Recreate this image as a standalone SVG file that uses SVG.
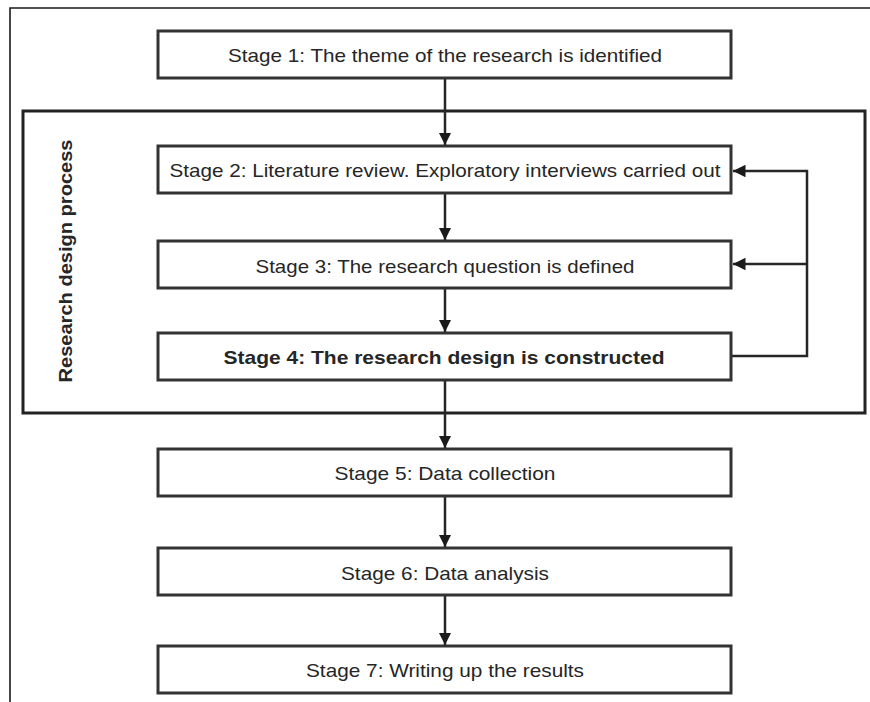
<svg xmlns="http://www.w3.org/2000/svg" width="870" height="702" viewBox="0 0 870 702">
  <style>
    .frame { fill: none; stroke: #1a1a1a; stroke-width: 1.6; }
    .box { fill: #ffffff; stroke: #333333; stroke-width: 3; }
    .group { fill: none; stroke: #222222; stroke-width: 3; }
    .label { font-family: "Liberation Sans", "DejaVu Sans", sans-serif; font-size: 19px; fill: #262626; text-anchor: middle; dominant-baseline: central; }
    .bold { font-weight: bold; }
    .wire { fill: none; stroke: #262626; stroke-width: 2.5; }
  </style>
  <defs>
    <marker id="arrow" viewBox="0 0 10 10" refX="10" refY="5" markerWidth="5" markerHeight="5" orient="auto" markerUnits="strokeWidth">
      <path d="M0,0 L10,5 L0,10 Z" fill="#1a1a1a"/>
    </marker>
  </defs>

  <rect width="870" height="702" fill="#ffffff"/>

  <!-- page frame -->
  <path class="frame" d="M10,702 L10,8 L870,8"/>

  <!-- research design process grouping -->
  <g id="research-design-process">
    <rect class="group" x="23" y="111" width="842" height="302"/>
    <text class="label bold" transform="translate(65,261) rotate(-90)" textLength="243" lengthAdjust="spacingAndGlyphs">Research design process</text>
  </g>

  <!-- connectors -->
  <g id="connectors">
    <line class="wire" x1="445" y1="78" x2="445" y2="145" marker-end="url(#arrow)"/>
    <line class="wire" x1="445" y1="193" x2="445" y2="240" marker-end="url(#arrow)"/>
    <line class="wire" x1="445" y1="288" x2="445" y2="332" marker-end="url(#arrow)"/>
    <line class="wire" x1="445" y1="380" x2="445" y2="448" marker-end="url(#arrow)"/>
    <line class="wire" x1="445" y1="496" x2="445" y2="547" marker-end="url(#arrow)"/>
    <line class="wire" x1="445" y1="595" x2="445" y2="645" marker-end="url(#arrow)"/>
    <polyline class="wire" points="731,356 807,356 807,171 733,171" marker-end="url(#arrow)"/>
    <line class="wire" x1="807" y1="264" x2="733" y2="264" marker-end="url(#arrow)"/>
  </g>

  <g id="stage1">
    <rect class="box" x="158" y="31" width="573" height="47"/>
    <text class="label" x="445" y="55" textLength="434" lengthAdjust="spacingAndGlyphs">Stage 1: The theme of the research is identified</text>
  </g>
  <g id="stage2">
    <rect class="box" x="158" y="146" width="573" height="47"/>
    <text class="label" x="445" y="170" textLength="551" lengthAdjust="spacingAndGlyphs">Stage 2: Literature review. Exploratory interviews carried out</text>
  </g>
  <g id="stage3">
    <rect class="box" x="158" y="241" width="573" height="47"/>
    <text class="label" x="445" y="266" textLength="379" lengthAdjust="spacingAndGlyphs">Stage 3: The research question is defined</text>
  </g>
  <g id="stage4">
    <rect class="box" x="158" y="333" width="573" height="47"/>
    <text class="label bold" x="444" y="357" textLength="441" lengthAdjust="spacingAndGlyphs">Stage 4: The research design is constructed</text>
  </g>
  <g id="stage5">
    <rect class="box" x="158" y="449" width="573" height="47"/>
    <text class="label" x="445" y="473" textLength="221" lengthAdjust="spacingAndGlyphs">Stage 5: Data collection</text>
  </g>
  <g id="stage6">
    <rect class="box" x="158" y="548" width="573" height="47"/>
    <text class="label" x="445" y="573" textLength="208" lengthAdjust="spacingAndGlyphs">Stage 6: Data analysis</text>
  </g>
  <g id="stage7">
    <rect class="box" x="158" y="646" width="573" height="47"/>
    <text class="label" x="445" y="670" textLength="278" lengthAdjust="spacingAndGlyphs">Stage 7: Writing up the results</text>
  </g>
</svg>
